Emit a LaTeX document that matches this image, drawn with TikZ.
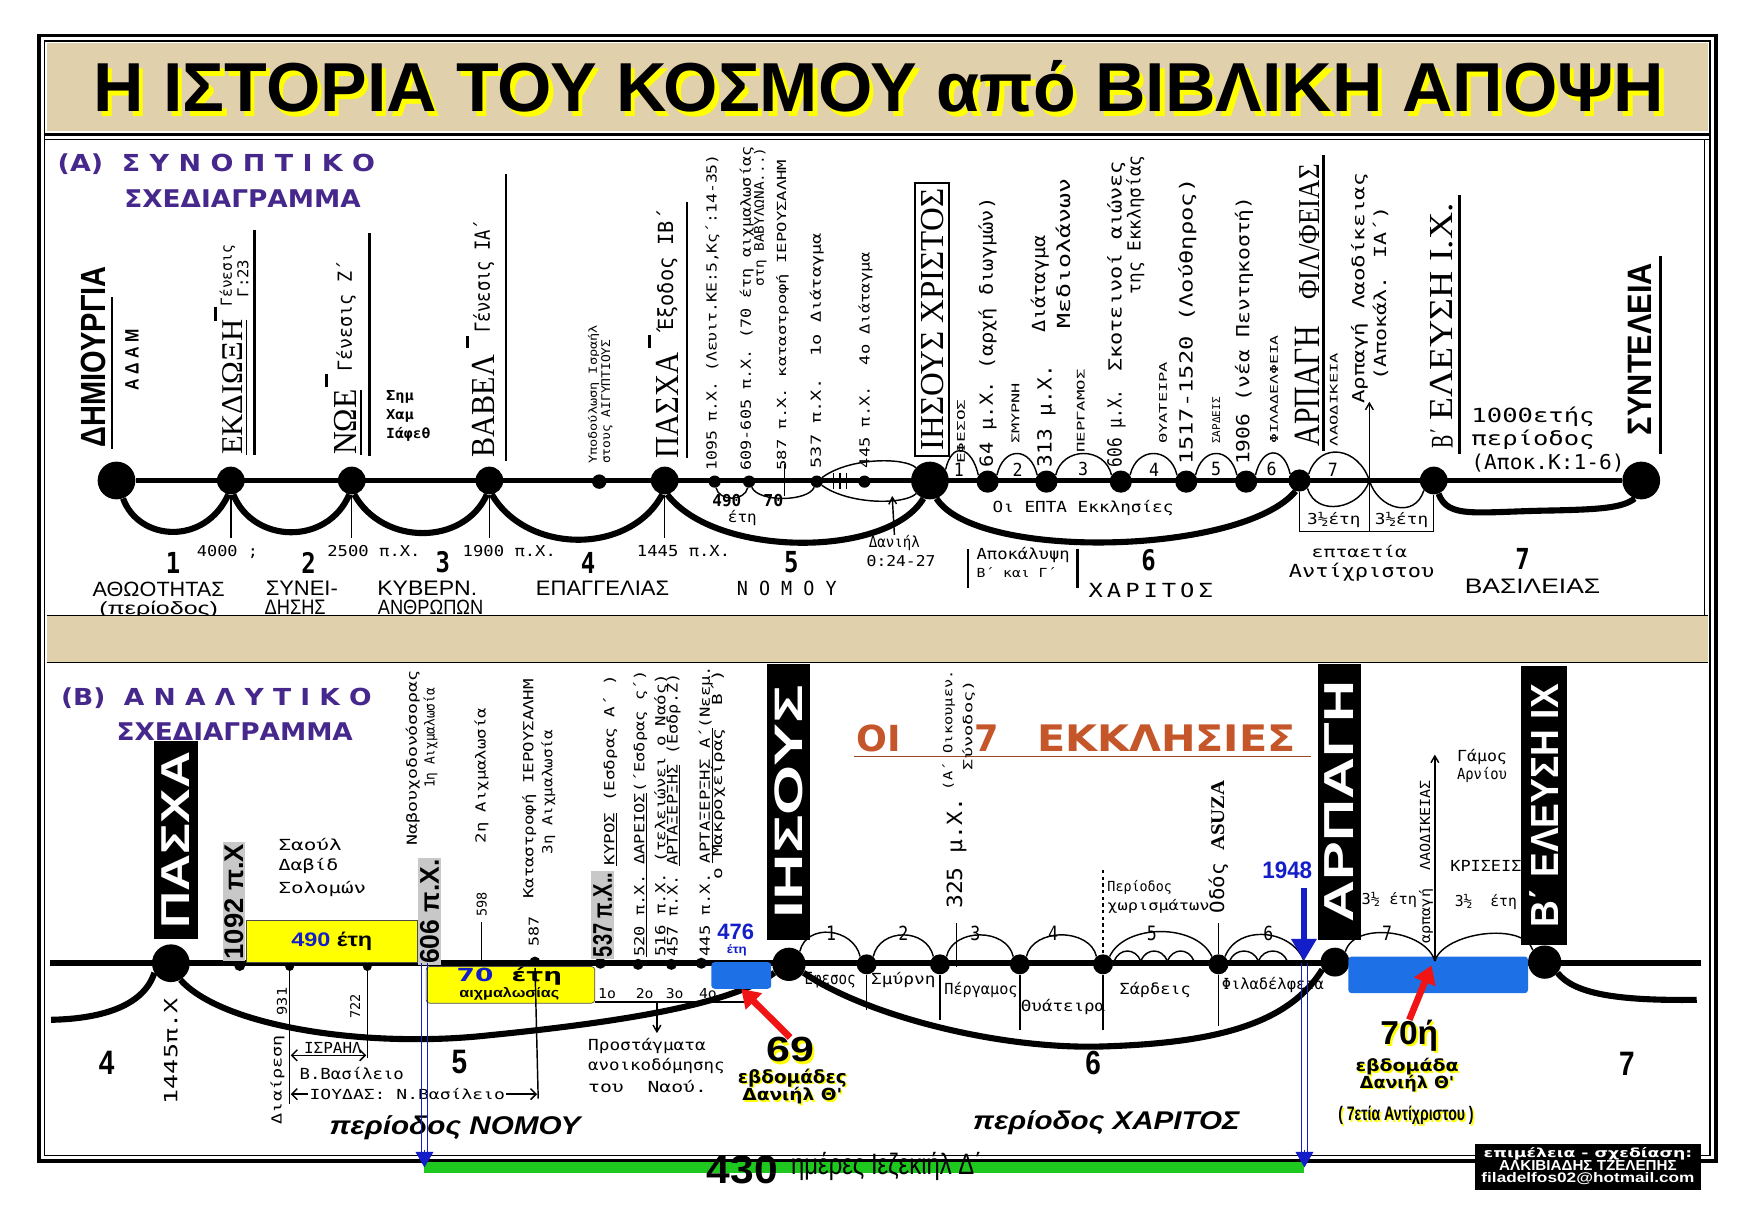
\documentclass[tikz,border=0pt]{standalone}
\usepackage{fontspec}
\usepackage{graphicx}
\setmainfont{DejaVu Sans}
\newfontfamily\tw{DejaVu Sans Mono}
\newfontfamily\ser{Liberation Serif}
\newfontfamily\hv{Liberation Sans}
\newfontfamily\dv{DejaVu Sans}
\usetikzlibrary{arrows.meta}
\definecolor{tanbg}{RGB}{224,208,172}
\definecolor{purp}{RGB}{70,40,140}
\definecolor{orng}{RGB}{196,86,42}
\definecolor{bblue}{RGB}{30,112,230}
\definecolor{tblue}{RGB}{20,30,200}
\definecolor{ylw}{RGB}{255,255,0}
\definecolor{grn}{RGB}{30,200,30}
\definecolor{hlgray}{RGB}{200,200,200}
\definecolor{ared}{RGB}{240,20,20}
\tikzset{
  lbl/.style={inner sep=0pt, outer sep=0pt},
  vlbl/.style={lbl, rotate=90, anchor=west},
  hlbl/.style={lbl, anchor=west},
  blob/.style={circle, fill=black, inner sep=0pt, minimum size=#1},
  tline/.style={line width=5pt},
  swoop/.style={line width=5.5pt},
  thn/.style={line width=1.3pt},
  bar/.style={line width=2.5pt},
  blkbox/.style={fill=black, text=white, rotate=90, inner sep=0pt},
  ybox/.style={fill=ylw, draw=black!70, line width=0.6pt, inner sep=0pt},
  bluebox/.style={fill=bblue, rounded corners=3pt, inner sep=0pt},
  barb/.style={-{Straight Barb[length=6pt,width=7pt]}, thn},
  redarr/.style={-{Triangle[length=16pt,width=20pt]}, ared, line width=6pt}
}
\newcommand{\rz}[3]{\resizebox{#1pt}{#2pt}{#3}}
\newcommand{\shad}[2][2pt]{\leavevmode\rlap{\raisebox{-#1}{\hspace{#1}\textcolor{ylw}{#2}}}#2}

\begin{document}
\begin{tikzpicture}[x=1pt, y=-1pt]
\useasboundingbox (0,0) rectangle (1568,1108);
\fill[white] (0,0) rectangle (1568,1108);
% frame and title
\fill[tanbg] (42,39) rectangle (1539,118);
\draw[line width=3.5pt] (35,32) rectangle (1546,1046);
\draw[line width=1.2pt] (40,37) rectangle (1541,1041);
\draw[line width=3pt] (40,121) -- (1541,121);
\draw[line width=1pt] (40,126) -- (1541,126);
\draw[line width=1pt] (1536,126) -- (1536,555);
\node[lbl] (ttl) at (792,80) {\shad[4pt]{\rz{1415}{46}{\hv\bfseries Η ΙΣΤΟΡΙΑ ΤΟΥ ΚΟΣΜΟΥ από ΒΙΒΛΙΚΗ ΑΠΟΨΗ}}};

% ---------------- (A) ----------------
\node[hlbl, text=purp] (hA1) at (52,148) {\rz{286}{16}{\dv\bfseries (Α)\ \ Σ\ Υ\ Ν\ Ο\ Π\ Τ\ Ι\ Κ\ Ο}};
\node[hlbl, text=purp] (hA2) at (112,179) {\rz{213}{16}{\dv\bfseries ΣΧΕΔΙΑΓΡΑΜΜΑ}};

\node[vlbl] (lDim) at (84,403) {\rz{163}{22}{\hv\bfseries ΔΗΜΙΟΥΡΓΙΑ}};
\draw[bar] (101,268) -- (101,405);
\node[vlbl] (lAdam) at (119,352) {\rz{55}{12}{\hv\bfseries Α Δ Α Μ}};
\node[vlbl] (lEkd) at (212,410) {\rz{122}{18}{\ser\underline{ΕΚΔΙΩΞΗ}}};
\draw[bar] (194,277) -- (194,289);
\node[vlbl] (lGen1) at (205,276) {\rz{55}{11}{\tw Γένεσις}};
\node[vlbl] (lGen1b) at (219,268) {\rz{34}{10}{\tw Γ:23}};
\draw[bar] (229,207) -- (229,410);
\node[vlbl] (lNoe) at (314,410) {\rz{59}{20}{\ser\underline{ΝΩΕ}}};
\draw[bar] (294,337) -- (294,349);
\node[vlbl] (lGen2) at (312,335) {\rz{100}{14}{\tw Γένεσις Ζ΄}};
\draw[bar] (333,210) -- (333,411);
\node[hlbl] (lSim) at (348,358) {\rz{25}{9}{\tw\bfseries Σημ}};
\node[hlbl] (lXam) at (348,375) {\rz{25}{9}{\tw\bfseries Χαμ}};
\node[hlbl] (lIaf) at (348,391) {\rz{40}{10}{\tw\bfseries Ιάφεθ}};
\node[vlbl] (lBab) at (436,412) {\rz{92}{20}{\ser ΒΑΒΕΛ}};
\draw[bar] (421,303) -- (421,314);
\node[vlbl] (lGen3) at (436,300) {\rz{102}{15}{\tw Γένεσις ΙΑ΄}};
\draw[bar] (456,157) -- (456,415);
\node[vlbl] (lYpo1) at (535,418) {\rz{125}{8}{\tw Υποδούλωση Ισραήλ}};
\node[vlbl] (lYpo2) at (547,418) {\rz{112}{8}{\tw στους ΑΙΓΥΠΤΙΟΥΣ}};
\node[vlbl] (lPas) at (601,413) {\rz{95}{20}{\ser ΠΑΣΧΑ}};
\draw[bar] (585,302) -- (585,314);
\node[vlbl] (lExo) at (601,298) {\rz{110}{15}{\tw Έξοδος ΙΒ΄}};
\draw[bar] (619,182) -- (619,413);
\node[vlbl] (l1095) at (642,424) {\rz{285}{10}{\tw 1095 π.Χ. (Λευιτ.ΚΕ:5,Κς΄:14-35)}};
\node[vlbl] (l609) at (673,424) {\rz{292}{10}{\tw 609-605 π.Χ. (70 έτη αιχμαλωσίας}};
\node[vlbl] (l609b) at (685,258) {\rz{125}{9}{\tw στη ΒΑΒΥΛΩΝΑ...)}};
\node[vlbl] (l587) at (705,424) {\rz{280}{9}{\tw 587 π.Χ. καταστροφή ΙΕΡΟΥΣΑΛΗΜ}};
\node[vlbl] (l537) at (736,422) {\rz{212}{10}{\tw 537 π.Χ.\ \ 1ο Διάταγμα}};
\node[vlbl] (l445) at (780,422) {\rz{195}{10}{\tw 445 π.Χ.\ \ 4ο Διάταγμα}};
\node[vlbl, draw, line width=2pt, inner sep=5pt] (lJes) at (840,411) {\rz{236}{20}{\ser ΙΗΣΟΥΣ ΧΡΙΣΤΟΣ}};
\node[vlbl] (lEfe) at (866,418) {\rz{58}{7}{\tw ΕΦΕΣΟΣ}};
\node[vlbl] (l64) at (890,421) {\rz{243}{13}{\tw 64 μ.Χ. (αρχή διωγμών)}};
\node[vlbl] (lSmy) at (915,400) {\rz{55}{7}{\tw ΣΜΥΡΝΗ}};
\node[vlbl] (l313) at (943,421) {\rz{92}{13}{\tw 313 μ.Χ.}};
\node[vlbl] (lDia) at (937,300) {\rz{88}{13}{\tw Διάταγμα}};
\node[vlbl] (lMed) at (958,296) {\rz{135}{13}{\tw Μεδιολάνων}};
\node[vlbl] (lPer) at (974,408) {\rz{75}{7}{\tw ΠΕΡΓΑΜΟΣ}};
\node[vlbl] (l606) at (1006,421) {\rz{70}{13}{\tw 606 μ.Χ.}};
\node[vlbl] (lSko) at (1006,335) {\rz{190}{13}{\tw Σκοτεινοί αιώνες}};
\node[vlbl] (lEkk) at (1023,265) {\rz{125}{13}{\tw της Εκκλησίας}};
\node[vlbl] (lThy) at (1048,400) {\rz{74}{7}{\tw ΘΥΑΤΕΙΡΑ}};
\node[vlbl] (l1517) at (1070,419) {\rz{258}{13}{\tw 1517-1520 (Λούθηρος)}};
\node[vlbl] (lSar) at (1096,400) {\rz{42}{7}{\tw ΣΑΡΔΕΙΣ}};
\node[vlbl] (l1906) at (1121,419) {\rz{242}{13}{\tw 1906 (νέα Πεντηκοστή)}};
\node[vlbl] (lFil) at (1148,400) {\rz{98}{7}{\tw ΦΙΛΑΔΕΛΦΕΙΑ}};
\node[vlbl] (lArp) at (1178,402) {\rz{108}{22}{\ser ΑΡΠΑΓΗ}};
\node[vlbl] (lFilf) at (1180,270) {\rz{122}{18}{\ser ΦΙΛ/ΦΕΙΑΣ}};
\draw[bar] (1193,140) -- (1193,406);
\node[vlbl] (lLao) at (1202,402) {\rz{84}{7}{\tw ΛΑΟΔΙΚΕΙΑ}};
\node[vlbl] (lArpL) at (1225,364) {\rz{208}{12}{\tw Αρπαγή Λαοδίκειας}};
\node[vlbl] (lApo) at (1244,343) {\rz{157}{12}{\tw (Αποκάλ. ΙΑ΄)}};
\node[vlbl] (lB2) at (1299,404) {\rz{18}{20}{\ser Β΄}};
\node[vlbl] (lEle) at (1299,379) {\rz{196}{20}{\ser ΕΛΕΥΣΗ Ι.Χ.}};
\draw[bar] (1315,176) -- (1315,409);
\node[hlbl] (l1000) at (1326,376) {\rz{111}{14}{\tw 1000ετής}};
\node[hlbl] (lPer2) at (1326,396) {\rz{111}{14}{\tw περίοδος}};
\node[hlbl] (lApok) at (1326,417) {\rz{138}{14}{\tw (Αποκ.Κ:1-6)}};
\node[vlbl] (lSyn) at (1478,392) {\rz{155}{21}{\hv\bfseries ΣΥΝΤΕΛΕΙΑ}};
\draw[bar] (1496,231) -- (1496,409);

% timeline A
\node[blob=34pt] (a1) at (105,433) {};
\node[blob=25pt] (a2) at (208,433) {};
\node[blob=25pt] (a3) at (317,433) {};
\node[blob=25pt] (a4) at (441,433) {};
\node[blob=13pt] (a4b) at (540,434) {};
\node[blob=25pt] (a5) at (599,433) {};
\node[blob=11pt] (n1095) at (644,434) {};
\node[blob=11pt] (n609) at (675,434) {};
\node[blob=11pt] (n537) at (736,434) {};
\node[blob=11pt] (n445) at (779,434) {};
\node[blob=34pt] (a6) at (838,433) {};
\node[blob=20pt] (c1) at (890,434) {};
\node[blob=20pt] (c2) at (943,434) {};
\node[blob=20pt] (c3) at (1010,434) {};
\node[blob=20pt] (c4) at (1069,434) {};
\node[blob=20pt] (c5) at (1123,434) {};
\node[blob=20pt] (a7) at (1171,433) {};
\coordinate (aup) at (1234,433);
\coordinate (aupT) at (1234,362);
\node[blob=25pt] (a8) at (1292,433) {};
\node[blob=34pt] (a9) at (1479,433) {};
\draw[tline] (a1) -- (a9);
\draw[swoop] (a1.-70) .. controls (125,488) and (185,492) .. (a2.-100);
\draw[swoop] (a2.-80) .. controls (228,490) and (295,492) .. (a3.-100);
\draw[swoop] (a3.-80) .. controls (345,492) and (418,492) .. (a4.-100);
\draw[swoop] (a4.-80) .. controls (475,500) and (568,500) .. (a5.-100);
\draw[swoop] (a5.-80) .. controls (645,503) and (800,503) .. (a6.-110);
\draw[swoop] (a6.-70) .. controls (880,506) and (1120,500) .. (a7.-110);
\draw[swoop] (a8.-70) .. controls (1305,468) and (1330,461) .. (1400,460) .. controls (1440,459) and (1462,458) .. (a9.-110);
\foreach \s/\e in {a6/c1,c1/c2,c2/c3,c3/c4,c4/c5,c5/a7}
  \draw[thn] (\s.35) .. controls +(6,-26) and +(-6,-26) .. (\e.145);
\draw[thn] (a7.35) .. controls +(10,-30) and +(-10,-30) .. (aup);
\draw[thn] (a7.-45) .. controls +(8,26) and +(-8,26) .. (aup);
\draw[thn] (aup) .. controls +(8,26) and +(-8,26) .. (a8.-135);
\draw[thn] (a7) -- (1171,479) -- (1292,479) -- (a8);
\draw[thn] (aup) -- (1234,479);
\draw[barb] (aup) -- (aupT);
\draw[thn] (n1095) .. controls (648,452) and (671,452) .. (n609);
\draw[thn] (n609) .. controls (684,453) and (728,452) .. (n537);
\draw[thn] (n537) .. controls (765,412) and (815,412) .. (a6);
\draw[thn] (n537) .. controls (765,455) and (815,455) .. (a6);
\draw[thn] (707,418) -- (707,447);
\foreach \x in {751,757,763} \draw[thn] (\x,426) -- (\x,441);
\foreach \d/\x in {a2/208,a3/317,a4/441,a5/599} \draw[thn] (\d) -- (\x,485);
\foreach \n/\x in {1/864,2/917,3/976,4/1040,5/1096,6/1146,7/1201}
  \node[lbl] (h\n) at (\x,423) {\rz{9}{12}{\tw \n}};
\node[lbl] (e1) at (1202,469) {\rz{48}{11}{\tw 3½έτη}};
\node[lbl] (e2) at (1263,469) {\rz{48}{11}{\tw 3½έτη}};

% lower labels A
\foreach \n/\x/\y in {1/156/507,2/278/507,3/399/507,4/530/507,5/713/507,6/1035/505,7/1372/504}
  \node[lbl] (p\n) at (\x,\y) {\rz{13}{19}{\tw\bfseries \n}};
\node[lbl] (y4000) at (205,497) {\rz{55}{10}{\tw 4000 ;}};
\node[lbl] (y2500) at (337,497) {\rz{84}{10}{\tw 2500 π.Χ.}};
\node[lbl] (y1900) at (459,497) {\rz{84}{10}{\tw 1900 π.Χ.}};
\node[lbl] (y1445) at (616,497) {\rz{84}{10}{\tw 1445 π.Χ.}};
\node[lbl] (pA1) at (143,531) {\rz{119}{13}{\hv ΑΘΩΟΤΗΤΑΣ}};
\node[lbl] (pA1b) at (143,549) {\rz{107}{12}{\hv (περίοδος)}};
\node[lbl] (pA2) at (272,530) {\rz{65}{13}{\hv ΣΥΝΕΙ-}};
\node[lbl] (pA2b) at (266,547) {\rz{55}{13}{\hv ΔΗΣΗΣ}};
\node[lbl] (pA3) at (385,530) {\rz{90}{13}{\hv ΚΥΒΕΡΝ.}};
\node[lbl] (pA3b) at (388,547) {\rz{95}{13}{\hv ΑΝΘΡΩΠΩΝ}};
\node[lbl] (pA4) at (543,530) {\rz{120}{13}{\hv ΕΠΑΓΓΕΛΙΑΣ}};
\node[lbl] (pA5) at (709,530) {\rz{90}{13}{\tw Ν Ο Μ Ο Υ}};
\node[lbl] (pA6) at (1037,532) {\rz{112}{13}{\tw Χ\,Α\,Ρ\,Ι\,Τ\,Ο\,Σ}};
\node[lbl] (pA7) at (1381,528) {\rz{122}{13}{\hv ΒΑΣΙΛΕΙΑΣ}};
\node[lbl] (eptA) at (1225,497) {\rz{86}{11}{\tw επταετία}};
\node[lbl] (antA) at (1227,516) {\rz{131}{13}{\tw Αντίχριστου}};
\node[lbl] (apk1) at (922,500) {\rz{84}{11}{\tw Αποκάλυψη}};
\node[lbl] (apk2) at (916,516) {\rz{72}{9}{\tw Β΄ και Γ΄}};
\draw[line width=2pt] (872,495) -- (872,530) (971,495) -- (971,530);
\node[lbl] (eptaE) at (976,458) {\rz{163}{11}{\tw Οι ΕΠΤΑ Εκκλησίες}};
\node[lbl] (t490) at (655,451) {\rz{26}{11}{\tw\bfseries 490}};
\node[lbl] (tEti) at (669,467) {\rz{26}{11}{\tw έτη}};
\node[lbl] (t70a) at (697,451) {\rz{18}{11}{\tw\bfseries 70}};
\node[lbl] (tDan) at (806,489) {\rz{46}{11}{\tw Δανιήλ}};
\node[lbl] (tDan2) at (812,506) {\rz{62}{10}{\tw Θ:24-27}};
\coordinate (danT) at (804,447);
\draw[barb] (tDan.north) -- (danT);

\fill[tanbg] (42,555) rectangle (1539,597);
\draw[line width=0.8pt] (42,555) -- (1539,555) (42,597) -- (1539,597);

% ---------------- (B) ----------------
\node[hlbl, text=purp] (hB1) at (55,629) {\rz{280}{16}{\dv\bfseries (Β)\ \ Α\ Ν\ Α\ Λ\ Υ\ Τ\ Ι\ Κ\ Ο}};
\node[hlbl, text=purp] (hB2) at (105,659) {\rz{213}{16}{\dv\bfseries ΣΧΕΔΙΑΓΡΑΜΜΑ}};
\node[lbl, text=orng] (oi7a) at (792,665) {\rz{40}{24}{\dv\bfseries ΟΙ}};
\node[lbl, text=orng] (oi7b) at (889,665) {\rz{22}{24}{\dv\bfseries 7}};
\node[lbl, text=orng] (oi7c) at (1051,665) {\rz{233}{24}{\dv\bfseries ΕΚΚΛΗΣΙΕΣ}};
\draw[orng!80!black, line width=1pt] (770,682) -- (1181,682);

\coordinate (bL) at (45,868);
\coordinate (bR) at (1533,868);
\coordinate (bL2) at (46,919);
\coordinate (bR2) at (1529,901);
\draw[tline] (bL) -- (bR);
\node[blob=34pt] (bPas) at (154,868) {};
\node[blob=10pt] (b1092) at (216,870) {};
\node[blob=8pt] (b931) at (261,871) {};
\node[blob=8pt] (b722) at (331,871) {};
\coordinate (b606) at (382.5,868);
\node[blob=10pt] (b587) at (482,867) {};
\node[blob=10pt] (b537) at (541,868) {};
\node[blob=10pt] (b520) at (575,869) {};
\node[blob=10pt] (b457) at (605,869) {};
\node[blob=10pt] (b445) at (632,868) {};
\node[blob=30pt] (bJes) at (711,869) {};
\node[blob=18pt] (f2) at (781,869) {};
\node[blob=18pt] (f3) at (847,869) {};
\node[blob=18pt] (f4) at (919,869) {};
\node[blob=18pt] (f5) at (994,869) {};
\node[blob=18pt] (f6) at (1098,869) {};
\coordinate (b1948) at (1175,866);
\node[blob=26pt] (bArp) at (1203,867) {};
\coordinate (bUp) at (1293,866);
\coordinate (bUpT) at (1293,680);
\node[blob=30pt] (bEl) at (1392,867) {};

\draw[swoop] (bL2) .. controls (95,918) and (130,905) .. (bPas.-150);
\draw[swoop] (bPas.-60) .. controls (200,925) and (330,945) .. (440,933) .. controls (560,921) and (660,905) .. (bJes.-150);
\draw[swoop] (bJes.-30) .. controls (780,915) and (900,946) .. (994,943) .. controls (1090,940) and (1160,925) .. (bArp.-150);
\draw[swoop] (bEl.-40) .. controls (1418,895) and (1455,902) .. (bR2);

\foreach \s/\e in {bJes/f2,f2/f3,f3/f4,f4/f5}
  \draw[thn] (\s.50) .. controls +(6,-26) and +(-6,-26) .. (\e.130);
\draw[thn] (f5.50) .. controls +(14,-30) and +(-14,-30) .. (f6.130);
\draw[thn] (f6.50) .. controls +(12,-30) and +(-10,-28) .. (b1948);
\foreach \a/\b in {1004/1028,1028/1052,1052/1076,1108/1134,1134/1160}
  \draw[thn] (\a,866) .. controls +(5,-12) and +(-5,-12) .. (\b,866);
\foreach \n/\x in {1/749,2/814,3/879,4/949,5/1038,6/1143,7/1250}
  \node[lbl] (g\n) at (\x,841) {\rz{9}{13}{\tw \n}};
\foreach \d/\y in {f2/910,f3/919,f4/928,f5/928,f6/925}
  \draw[thn] (\d) -- (\d |- 0,\y);
\draw[thn, dashed] (994,784) -- (f5);
\draw[thn] (1098,832) -- (f6);
\draw[thn] (862,832) -- (862,871);

% churches B
\node[lbl] (cEf) at (748,883) {\rz{46}{11}{\tw Εφεσος}};
\node[lbl] (cSm) at (814,883) {\rz{58}{11}{\tw Σμύρνη}};
\node[lbl] (cPe) at (884,892) {\rz{66}{11}{\tw Πέργαμος}};
\node[lbl] (cTh) at (958,907) {\rz{76}{11}{\tw Θυάτειρα}};
\node[lbl] (cSa) at (1041,892) {\rz{64}{11}{\tw Σάρδεις}};
\node[hlbl] (cFi) at (1101,888) {\rz{92}{11}{\tw Φιλαδέλφεια}};
\node[vlbl] (t325) at (862,819) {\rz{100}{14}{\tw 325 μ.Χ.}};
\node[vlbl] (tOik) at (855,712) {\rz{108}{9}{\tw (Α΄ Οικουμεν.}};
\node[vlbl] (tSyn) at (873,694) {\rz{81}{9}{\tw Σύνοδος)}};
\node[hlbl] (tXor1) at (998,800) {\rz{58}{10}{\tw Περίοδος}};
\node[hlbl] (tXor2) at (998,817) {\rz{92}{10}{\tw χωρισμάτων}};
\node[vlbl] (tAsu) at (1098,823) {\rz{120}{14}{\tw Οδός {\ser\bfseries ASUZA}}};

% black boxes
\node[blkbox, minimum width=178pt, minimum height=39pt] (kPas) at (158.5,757) {\rz{159}{25}{\hv\bfseries ΠΑΣΧΑ}};
\node[blkbox, minimum width=249pt, minimum height=39pt] (kJes) at (710.5,722.5) {\rz{210}{25}{\hv\bfseries ΙΗΣΟΥΣ}};
\node[blkbox, minimum width=249pt, minimum height=38pt] (kArp) at (1207,722.5) {\rz{218}{26}{\hv\bfseries ΑΡΠΑΓΗ}};
\node[blkbox, minimum width=252pt, minimum height=41pt] (kEl) at (1391.5,726) {\rz{219}{26}{\hv\bfseries Β΄ ΕΛΕΥΣΗ ΙΧ}};

% law period
\node[ybox, minimum width=154pt, minimum height=38pt] (y490) at (299,848) {\rz{73}{13}{\hv\bfseries\textcolor{tblue}{490} έτη}};
\node[ybox, rounded corners=3pt, minimum width=152pt, minimum height=33pt] (y70) at (460,887.5) {};
\node[lbl] (t70) at (459,880) {\rz{95}{13}{\dv\bfseries\textcolor{tblue}{70}\ \ έτη}};
\node[lbl] (t70b) at (459,896) {\rz{90}{9}{\hv\bfseries αιχμαλωσίας}};
\node[vlbl, fill=hlgray, inner sep=1.5pt] (t1092) at (211,866) {\rz{104}{17}{\hv\bfseries 1092 π.Χ}};
\node[vlbl, fill=hlgray, inner sep=1.5pt] (t606) at (387,870) {\rz{94}{17}{\hv\bfseries 606 π.Χ.}};
\node[vlbl, fill=hlgray, inner sep=1.5pt] (t537) at (543,864) {\rz{76}{17}{\hv\bfseries 537 π.Χ..}};
\node[hlbl] (tSaoul) at (251,761) {\rz{57}{11}{\tw Σαούλ}};
\node[hlbl] (tDavid) at (251,780) {\rz{54}{11}{\tw Δαβίδ}};
\node[hlbl] (tSolo) at (251,801) {\rz{79}{11}{\tw Σολομών}};
\node[vlbl] (tNab) at (372,762) {\rz{158}{10}{\tw Ναβουχοδονόσορας}};
\node[vlbl] (tAix1) at (388,710) {\rz{90}{10}{\tw 1η Αιχμαλωσία}};
\node[vlbl] (t598) at (434,826) {\rz{22}{9}{\tw 598}};
\draw[thn] (434,831) -- (434,866);
\node[vlbl] (tAix2) at (434,760) {\rz{122}{10}{\tw 2η Αιχμαλωσία}};
\node[vlbl] (tKat) at (477,810) {\rz{198}{10}{\tw Καταστροφή ΙΕΡΟΥΣΑΛΗΜ}};
\node[vlbl] (tAix3) at (494,770) {\rz{112}{10}{\tw 3η Αιχμαλωσία}};
\node[vlbl] (t587) at (481,853) {\rz{27}{9}{\tw 587}};
\node[vlbl] (tKyr) at (550,780) {\rz{172}{10}{\tw \underline{ΚΥΡΟΣ} (Εσδρας Α΄ )}};
\node[vlbl] (t520) at (577,862) {\rz{258}{10}{\tw \underline{520 π.Χ. ΔΑΡΕΙΟΣ}(΄Εσδρας ς΄)}};
\node[vlbl] (t516) at (596,862) {\rz{255}{10}{\tw 516 π.Χ. (τελειώνει ο Ναός)}};
\node[vlbl] (t457) at (607,862) {\rz{255}{10}{\tw 457 π.Χ. \underline{ΑΡΤΑΞΕΡΞΗΣ} (Εσδρ.Ζ)}};
\node[vlbl] (t445) at (636,862) {\rz{262}{10}{\tw 445 π.Χ. \underline{ΑΡΤΑΞΕΡΞΗΣ Α΄}(Νεεμ.}};
\node[vlbl] (tMak) at (647,793) {\rz{189}{10}{\tw ο Μακροχείρας\ \ Β΄)}};
\foreach \n/\x in {1/547,2/581,3/608,4/638}
  \node[lbl] (o\n) at (\x,895) {\rz{16}{9}{\tw \n ο}};
\draw[thn] (536,903) -- (670,903);
\coordinate (proT) at (592,931);
\draw[barb] (592,903) -- (proT);
\node[hlbl] (tPro1) at (530,943) {\rz{106}{11}{\tw Προστάγματα}};
\node[hlbl] (tPro2) at (530,961) {\rz{123}{11}{\tw ανοικοδόμησης}};
\node[hlbl] (tPro3) at (530,979) {\rz{107}{11}{\tw του\ \ Ναού.}};
\draw[thn] (b931) -- (261,995);
\draw[thn] (b722) -- (331,953);
\draw[thn] (b587) -- (485,990);
\node[vlbl] (t931) at (254,915) {\rz{25}{9}{\tw 931}};
\node[vlbl] (tDiai) at (250,1013) {\rz{80}{10}{\tw Διαίρεση}};
\node[vlbl] (t722) at (320,918) {\rz{22}{9}{\tw 722}};
\draw[{Straight Barb[length=5pt]}-{Straight Barb[length=5pt]}, thn] (262,951) -- (330,951);
\node[lbl] (tIsr) at (300,944) {\rz{52}{10}{\tw ΙΣΡΑΗΛ}};
\node[hlbl] (tBv) at (270,967) {\rz{94}{11}{\tw Β.Βασίλειο}};
\draw[{Straight Barb[length=5pt]}-{Straight Barb[length=5pt]}, thn] (262,986) -- (484,986);
\node[lbl, fill=white, inner xsep=1pt] (tIou) at (367,986) {\rz{176}{10}{\tw ΙΟΥΔΑΣ: Ν.Βασίλειο}};
\node[vlbl] (t1445) at (154,995) {\rz{95}{12}{\tw 1445π.Χ}};
\foreach \n/\x/\y in {4/96/958,5/414/957,6/985/958,7/1466/959}
  \node[lbl] (q\n) at (\x,\y) {\rz{14}{21}{\hv\bfseries \n}};
\node[hlbl] (perN) at (297,1016) {\rz{226}{17}{\hv\bfseries\itshape περίοδος ΝΟΜΟΥ}};
\node[hlbl] (perX) at (877,1012) {\rz{240}{17}{\hv\bfseries\itshape περίοδος ΧΑΡΙΤΟΣ}};

% rapture and second coming
\node[bluebox, minimum width=54pt, minimum height=24pt] (bx476) at (668,879) {};
\node[bluebox, minimum width=162pt, minimum height=33pt] (bx70h) at (1296,878.5) {};
\draw[thn] (bArp.45) .. controls +(8,-28) and +(-8,-28) .. (bUp);
\draw[thn] (bUp) .. controls +(8,-26) and +(-8,-26) .. (bEl.135);
\draw[barb] (bUp) -- (bUpT);
\node[vlbl] (tArpL) at (1285,850) {\rz{147}{10}{\tw αρπαγή\ \ ΛΑΟΔΙΚΕΙΑΣ}};
\node[hlbl] (tGam) at (1313,682) {\rz{45}{11}{\tw Γάμος}};
\node[hlbl] (tArn) at (1313,698) {\rz{45}{11}{\tw Αρνίου}};
\node[lbl] (tKri) at (1339,780) {\rz{64}{10}{\tw ΚΡΙΣΕΙΣ}};
\node[lbl] (tE1) at (1252,811) {\rz{50}{11}{\tw 3½ έτη}};
\node[lbl] (tE2) at (1339,813) {\rz{56}{11}{\tw 3½\ \ έτη}};

% blue marks
\node[lbl, text=tblue] (t476) at (663,840) {\rz{33}{14}{\hv\bfseries 476}};
\node[lbl, text=tblue] (t476e) at (664,856) {\rz{18}{8}{\hv\bfseries έτη}};
\node[lbl, text=tblue] (t1948) at (1160,784) {\rz{45}{15}{\hv\bfseries 1948}};
\coordinate (a1948) at (1175,800);
\draw[-{Triangle[length=20pt,width=22pt]}, tblue, line width=6pt] (a1948) -- (b1948);
\coordinate (g1) at (382.5,1052);
\coordinate (g2) at (1175.5,1052);
\draw[grn, line width=10pt] (g1) -- (g2);
\draw[tblue, line width=1pt] (380,868) -- (380,1040) (385,868) -- (385,1040);
\draw[tblue, line width=1pt] (1173,868) -- (1173,1040) (1178,868) -- (1178,1040);
\draw[-{Triangle[length=14pt,width=16pt]}, tblue, line width=1pt] (382.5,1036) -- (g1);
\draw[-{Triangle[length=14pt,width=16pt]}, tblue, line width=1pt] (1175.5,1036) -- (g2);

% weeks of Daniel
\node[lbl] (t69) at (712,947) {\shad{\rz{43}{22}{\hv\bfseries 69}}};
\node[lbl] (tEbd) at (714,972) {\shad[1.5pt]{\rz{98}{13}{\dv\bfseries εβδομάδες}}};
\node[lbl] (tDn1) at (714,988) {\shad[1.5pt]{\rz{90}{12}{\dv\bfseries Δανιήλ Θ'}}};
\draw[redarr] (t69.north) -- (bx476.south);
\node[lbl] (t70h) at (1270,934) {\shad{\rz{52}{22}{\hv\bfseries 70ή}}};
\node[lbl] (tEbd2) at (1268,962) {\shad[1.5pt]{\rz{93}{12}{\dv\bfseries εβδομάδα}}};
\node[lbl] (tDn2) at (1268,977) {\shad[1.5pt]{\rz{85}{12}{\dv\bfseries Δανιήλ Θ'}}};
\node[lbl] (t7et) at (1267,1006) {\shad[1.5pt]{\rz{122}{13}{\hv\bfseries ( 7ετία Αντίχριστου )}}};
\coordinate (rtip) at (1290,870);
\draw[redarr] (t70h.north) -- (rtip);

% days of Ezekiel and credits
\node[lbl] (t430) at (669,1054) {\rz{64}{25}{\hv\bfseries 430}};
\node[hlbl] (tIez) at (713,1051) {\rz{172}{20}{\hv ημέρες Ιεζεκιήλ Δ΄}};
\node[fill=black, minimum width=204pt, minimum height=41pt, inner sep=0pt] (cred) at (1431,1051.5) {};
\node[lbl, text=white] (cr1) at (1431,1039.5) {\rz{188}{9}{\dv\bfseries επιμέλεια - σχεδίαση:}};
\node[lbl, text=white] (cr2) at (1431,1050.5) {\rz{160}{9}{\hv\bfseries ΑΛΚΙΒΙΑΔΗΣ ΤΖΕΛΕΠΗΣ}};
\node[lbl, text=white] (cr3) at (1431,1062.5) {\rz{192}{9}{\hv\bfseries filadelfos02@hotmail.com}};
\end{tikzpicture}
\end{document}
